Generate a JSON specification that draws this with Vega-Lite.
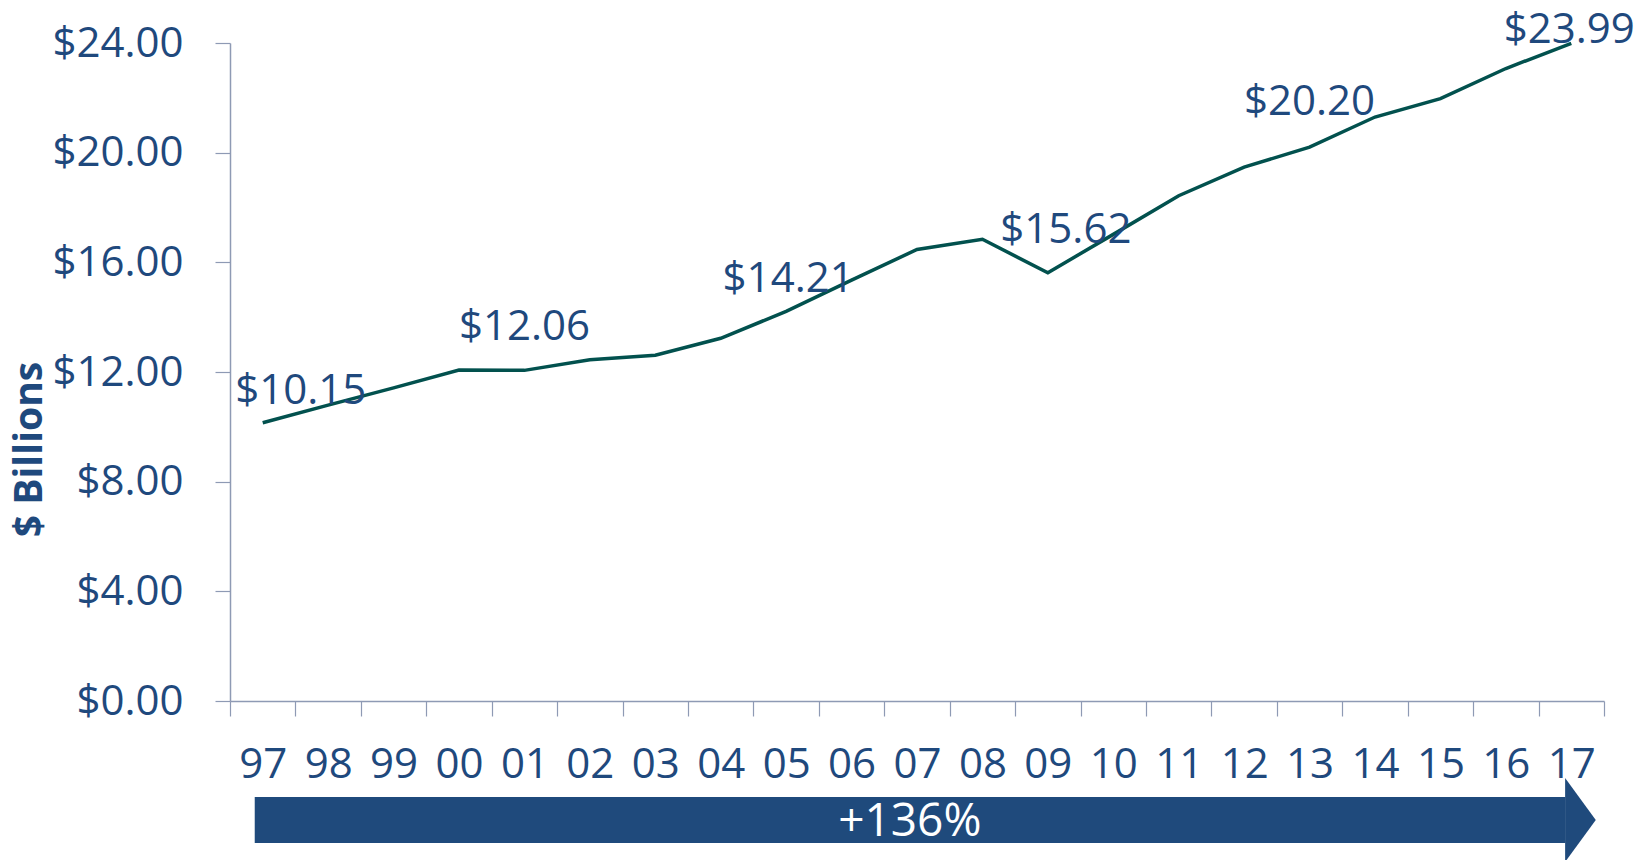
{
  "$schema": "https://vega.github.io/schema/vega-lite/v6.json",
  "autosize": {"type": "none"},
  "padding": {"left": 230, "top": 43, "right": 38, "bottom": 159},
  "width": 1374,
  "height": 658,
  "background": "white",
  "config": {"view": {"stroke": null}},
  "resolve": {"scale": {"x": "independent", "y": "independent"}},
  "layer": [
    {
      "data": {"values": [
        {"yr": "97", "v": 10.15},
        {"yr": "98", "v": 10.79},
        {"yr": "99", "v": 11.42},
        {"yr": "00", "v": 12.07},
        {"yr": "01", "v": 12.06},
        {"yr": "02", "v": 12.45},
        {"yr": "03", "v": 12.61},
        {"yr": "04", "v": 13.23},
        {"yr": "05", "v": 14.21},
        {"yr": "06", "v": 15.35},
        {"yr": "07", "v": 16.47},
        {"yr": "08", "v": 16.84},
        {"yr": "09", "v": 15.62},
        {"yr": "10", "v": 17.02},
        {"yr": "11", "v": 18.43},
        {"yr": "12", "v": 19.47},
        {"yr": "13", "v": 20.20},
        {"yr": "14", "v": 21.30},
        {"yr": "15", "v": 21.97},
        {"yr": "16", "v": 23.07},
        {"yr": "17", "v": 23.99}
      ]},
      "encoding": {
        "x": {
          "field": "yr", "type": "ordinal", "sort": null,
          "scale": {"paddingInner": 0, "paddingOuter": 0},
          "axis": {
            "title": null, "labelAngle": 0, "tickBand": "extent",
            "labelFont": "Open Sans", "labelFontSize": 42, "labelColor": "#1f497d",
            "labelPadding": 28, "tickSize": 15, "tickColor": "#8e9ab4", "tickWidth": 1.2,
            "domainColor": "#8e9ab4", "domainWidth": 1.5, "grid": false
          }
        },
        "y": {
          "field": "v", "type": "quantitative",
          "scale": {"domain": [0, 24], "nice": false, "zero": true},
          "axis": {
            "values": [0, 4, 8, 12, 16, 20, 24], "format": "$.2f", "grid": false,
            "labelFont": "Open Sans", "labelFontSize": 42, "labelColor": "#1f497d",
            "labelPadding": 32, "tickSize": 15, "tickColor": "#8e9ab4", "tickWidth": 1.2,
            "domainColor": "#8e9ab4", "domainWidth": 1.5,
            "title": "$ Billions", "titleFont": "Open Sans", "titleFontSize": 39,
            "titleFontWeight": "bold", "titleColor": "#1f497d", "titleAngle": -90,
            "titleAlign": "center", "titleBaseline": "middle", "titleX": -201, "titleY": 406
          }
        }
      },
      "layer": [
        {"mark": {"type": "line", "color": "#02514e", "strokeWidth": 3.5}},
        {"transform": [{"filter": "datum.yr == '97'"}],
         "mark": {"type": "text", "font": "Open Sans", "fontSize": 42, "color": "#1f497d", "align": "center", "baseline": "middle", "dx": 38, "dy": -32},
         "encoding": {"text": {"field": "v", "type": "quantitative", "format": "$.2f"}}},
        {"transform": [{"filter": "datum.yr == '01'"}],
         "mark": {"type": "text", "font": "Open Sans", "fontSize": 42, "color": "#1f497d", "align": "center", "baseline": "middle", "dx": 0, "dy": -43},
         "encoding": {"text": {"field": "v", "type": "quantitative", "format": "$.2f"}}},
        {"transform": [{"filter": "datum.yr == '05'"}],
         "mark": {"type": "text", "font": "Open Sans", "fontSize": 42, "color": "#1f497d", "align": "center", "baseline": "middle", "dx": 2, "dy": -32},
         "encoding": {"text": {"field": "v", "type": "quantitative", "format": "$.2f"}}},
        {"transform": [{"filter": "datum.yr == '09'"}],
         "mark": {"type": "text", "font": "Open Sans", "fontSize": 42, "color": "#1f497d", "align": "center", "baseline": "middle", "dx": 18, "dy": -43},
         "encoding": {"text": {"field": "v", "type": "quantitative", "format": "$.2f"}}},
        {"transform": [{"filter": "datum.yr == '13'"}],
         "mark": {"type": "text", "font": "Open Sans", "fontSize": 42, "color": "#1f497d", "align": "center", "baseline": "middle", "dx": 0, "dy": -45},
         "encoding": {"text": {"field": "v", "type": "quantitative", "format": "$.2f"}}},
        {"transform": [{"filter": "datum.yr == '17'"}],
         "mark": {"type": "text", "font": "Open Sans", "fontSize": 42, "color": "#1f497d", "align": "center", "baseline": "middle", "dx": -2, "dy": -13},
         "encoding": {"text": {"field": "v", "type": "quantitative", "format": "$.2f"}}}
      ]
    },
    {
      "data": {"values": [{"label": "+136%"}]},
      "layer": [
        {
          "mark": {"type": "rect", "color": "#1f4a7c"},
          "encoding": {
            "x": {"datum": 0.378, "type": "quantitative", "scale": {"domain": [0, 21], "nice": false, "zero": false}, "axis": null},
            "x2": {"datum": 20.41},
            "y": {"datum": -3.5, "type": "quantitative", "scale": {"domain": [0, 24], "nice": false}, "axis": null},
            "y2": {"datum": -5.18}
          }
        },
        {
          "mark": {"type": "point", "filled": true, "opacity": 1, "color": "#1f4a7c", "strokeWidth": 0,
                   "shape": "M-0.365,-1L0.365,0L-0.365,1Z", "size": 7056},
          "encoding": {
            "x": {"datum": 20.64, "type": "quantitative", "scale": {"domain": [0, 21], "nice": false, "zero": false}, "axis": null},
            "y": {"datum": -4.34, "type": "quantitative", "scale": {"domain": [0, 24], "nice": false}, "axis": null}
          }
        },
        {
          "mark": {"type": "text", "font": "Open Sans", "fontSize": 46, "color": "white", "align": "center", "baseline": "middle", "dy": 2},
          "encoding": {
            "x": {"datum": 10.39, "type": "quantitative", "scale": {"domain": [0, 21], "nice": false, "zero": false}, "axis": null},
            "y": {"datum": -4.34, "type": "quantitative", "scale": {"domain": [0, 24], "nice": false}, "axis": null},
            "text": {"field": "label", "type": "nominal"}
          }
        }
      ]
    }
  ]
}
